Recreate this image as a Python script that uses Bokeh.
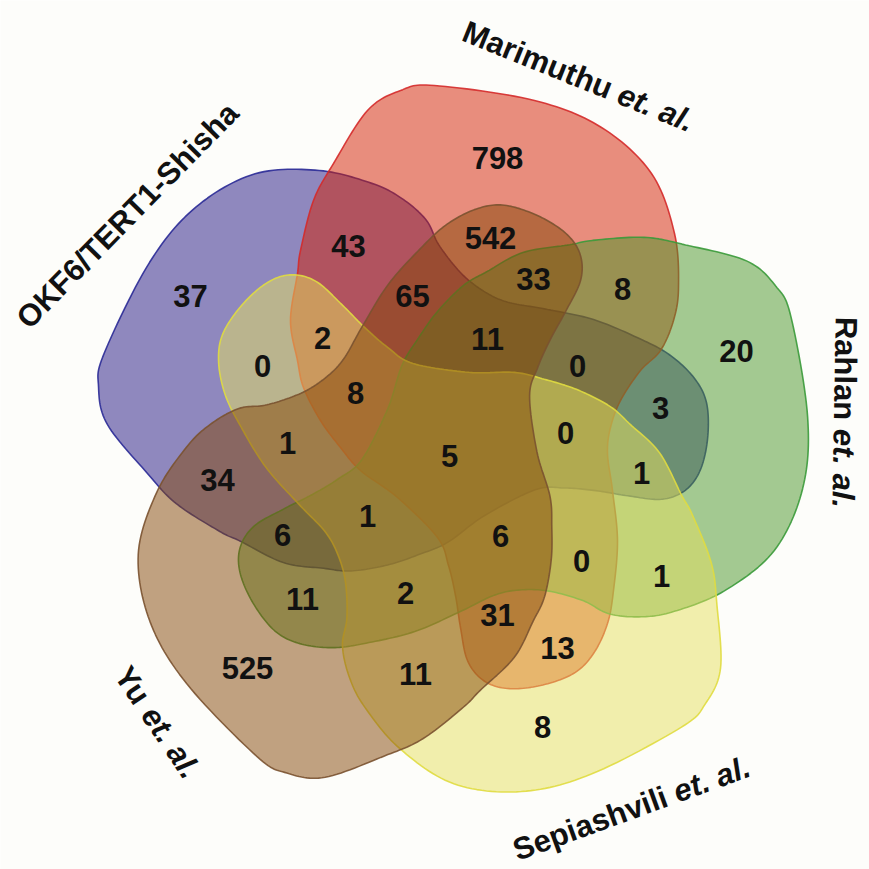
import numpy as np
from bokeh.plotting import figure
from bokeh.models import ColumnDataSource, Range1d
from bokeh.embed import file_html
from bokeh.resources import INLINE
from bokeh.core.properties import value

# ---------------- data ----------------
set_keys = ["A", "B", "C", "D", "E"]
set_names = ["OKF6/TERT1-Shisha", "Marimuthu", "Rahlan", "Sepiashvili", "Yu"]
set_suffix = ["", "et. al.", "et. al.", "et. al.", "et. al."]

region_sets = ["B", "BE", "BCE", "BC", "AB", "ABE", "ABCE", "ABC", "C", "A",
               "ABD", "AD", "ABDE", "AC", "ABCD", "ADE", "ABCDE", "ACD", "AE",
               "ACDE", "ACE", "BCDE", "BCD", "CD", "CE", "CDE", "BDE", "BD",
               "E", "DE", "D"]
region_counts = [798, 542, 33, 8, 43, 65, 11, 0, 20, 37,
                 2, 0, 8, 3, 0, 1, 5, 1, 34,
                 1, 6, 6, 0, 1, 11, 2, 31, 13,
                 525, 11, 8]

# ---------------- layout (pixel positions in the 869 px picture) ----------------
H = 869
label_pos = {
    "B": (497, 157), "BE": (490, 237), "BCE": (533, 278), "BC": (622, 288),
    "AB": (348, 245), "ABE": (412, 295), "ABCE": (487, 338), "ABC": (577, 365),
    "C": (736, 350), "A": (190, 295), "ABD": (322, 337), "AD": (262, 365),
    "ABDE": (355, 392), "AC": (660, 407), "ABCD": (565, 432), "ADE": (287, 442),
    "ABCDE": (449, 455), "ACD": (641, 472), "AE": (217, 479), "ACDE": (367, 515),
    "ACE": (282, 534), "BCDE": (500, 535), "BCD": (581, 560), "CD": (661, 575),
    "CE": (302, 598), "CDE": (405, 592), "BDE": (497, 614), "BD": (557, 647),
    "E": (247, 667), "DE": (415, 673), "D": (542, 726),
}
# set-name label placement: centre (px) and rotation (deg)
name_pos = [(127, 215), (578, 76), (844, 412), (631, 808), (157, 722)]
name_angle = [45.6, -22.0, -91.0, 20.0, -56.0]

# one lobed set outline (template), rotated by 72 degree steps
center = (453, 446)
template = [(434, 85), (534, 100), (601, 127), (651, 173), (674, 233), (678, 287),
            (673, 320), (660, 350), (640, 370), (620, 400), (610, 427), (607, 453),
            (612, 490), (617, 540), (613, 590), (607, 623), (593, 653), (573, 673),
            (540, 685), (507, 688), (483, 680), (467, 660), (460, 627), (455, 595),
            (448, 565), (437, 537), (397, 497), (360, 470), (340, 447), (320, 420),
            (303, 387), (297, 360), (290, 320), (297, 273), (300, 250), (313, 200),
            (333, 163), (367, 110), (400, 90)]
rot_deg = {"A": 72, "B": 0, "C": -72, "D": -144, "E": -216}
# small per-set correction: (extra rotation deg, pivot px, shift px)
tweak = {"E": (-1.5, (270, 640), (3, 7))}

fill_cols = {"A": "#211382", "B": "#d31d00", "C": "#499528", "D": "#e5df5e", "E": "#834506"}
line_cols = {"A": "#2a2a96", "B": "#d42a2a", "C": "#3a9a3a", "D": "#e0dc40", "E": "#7a5230"}


def smooth_closed(pts, n=14):
    P = np.asarray(pts, float)
    N = len(P)
    out = []
    t = np.linspace(0, 1, n, endpoint=False)[:, None]
    for i in range(N):
        p0, p1, p2, p3 = P[(i - 1) % N], P[i], P[(i + 1) % N], P[(i + 2) % N]
        seg = 0.5 * ((2 * p1) + (-p0 + p2) * t + (2 * p0 - 5 * p1 + 4 * p2 - p3) * t ** 2
                     + (-p0 + 3 * p1 - 3 * p2 + p3) * t ** 3)
        out.append(seg)
    return np.vstack(out)


def rotate(x, y, deg, cx=0.0, cy=0.0):
    a = np.deg2rad(deg)
    c, s = np.cos(a), np.sin(a)
    return cx + (x - cx) * c - (y - cy) * s, cy + (x - cx) * s + (y - cy) * c


base = np.array([(x - center[0], center[1] - y) for x, y in template], float)
base = smooth_closed(base)


def shape_for(key):
    xr, yr = rotate(base[:, 0], base[:, 1], rot_deg[key])
    xs, ys = center[0] + xr, (H - center[1]) + yr
    if key in tweak:
        d, (px, py), (sx, sy) = tweak[key]
        xs, ys = rotate(xs, ys, d, px, H - py)
        xs, ys = xs + sx, ys - sy
    return xs, ys


p = figure(width=869, height=869, x_range=Range1d(0, 869), y_range=Range1d(0, 869),
           output_backend="svg", toolbar_location=None, min_border=0)
p.axis.visible = False
p.xgrid.visible = False
p.ygrid.visible = False
p.outline_line_color = None
p.background_fill_color = "#fdfdfa"
p.border_fill_color = "#fdfdfa"

for k in set_keys:
    xs, ys = shape_for(k)
    p.patch(xs, ys, fill_color=fill_cols[k], fill_alpha=0.5,
            line_color=line_cols[k], line_width=1.6, line_alpha=0.9)

NFS = 31
src = ColumnDataSource(dict(
    x=[label_pos[r][0] for r in region_sets],
    y=[H - label_pos[r][1] for r in region_sets],
    t=[str(c) for c in region_counts],
))
p.text("x", "y", text="t", source=src, text_font=value("Liberation Sans"),
       text_font_style="bold", text_font_size=value(f"{NFS}px"), text_color="#111111",
       text_align="center", text_baseline="middle")

# Arial/Liberation Sans Bold advance widths (per 1000 em)
W = {' ': 278, '.': 278, '/': 278, '-': 333, 'A': 722, 'E': 667, 'F': 611, 'K': 722,
     'M': 833, 'O': 778, 'R': 722, 'S': 667, 'T': 611, 'Y': 667, 'a': 556, 'e': 556,
     'h': 611, 'i': 278, 'l': 278, 'm': 889, 'n': 611, 'p': 611, 'r': 389, 's': 556,
     't': 333, 'u': 611, 'v': 556}
FS = 31


def tw(s):
    return sum(W.get(ch, 556) for ch in s) * FS / 1000.0


for name, suf, (cx, cy), ang in zip(set_names, set_suffix, name_pos, name_angle):
    d = np.array([np.cos(np.deg2rad(ang)), np.sin(np.deg2rad(ang))])
    full = name + (" " + suf if suf else "")
    total = tw(full)
    start = np.array([cx, H - cy]) - d * total / 2
    p.text(x=[start[0]], y=[start[1]], text=[name], angle=ang, angle_units="deg",
           text_font=value("Liberation Sans"), text_font_style="bold",
           text_font_size=value(f"{FS}px"), text_color="#111111",
           text_align="left", text_baseline="middle")
    if suf:
        s2 = start + d * tw(name + " ")
        p.text(x=[s2[0]], y=[s2[1]], text=[suf], angle=ang, angle_units="deg",
               text_font=value("Liberation Sans"), text_font_style="bold italic",
               text_font_size=value(f"{FS}px"), text_color="#111111",
               text_align="left", text_baseline="middle")

open("out.html", "w").write(file_html(p, INLINE))
